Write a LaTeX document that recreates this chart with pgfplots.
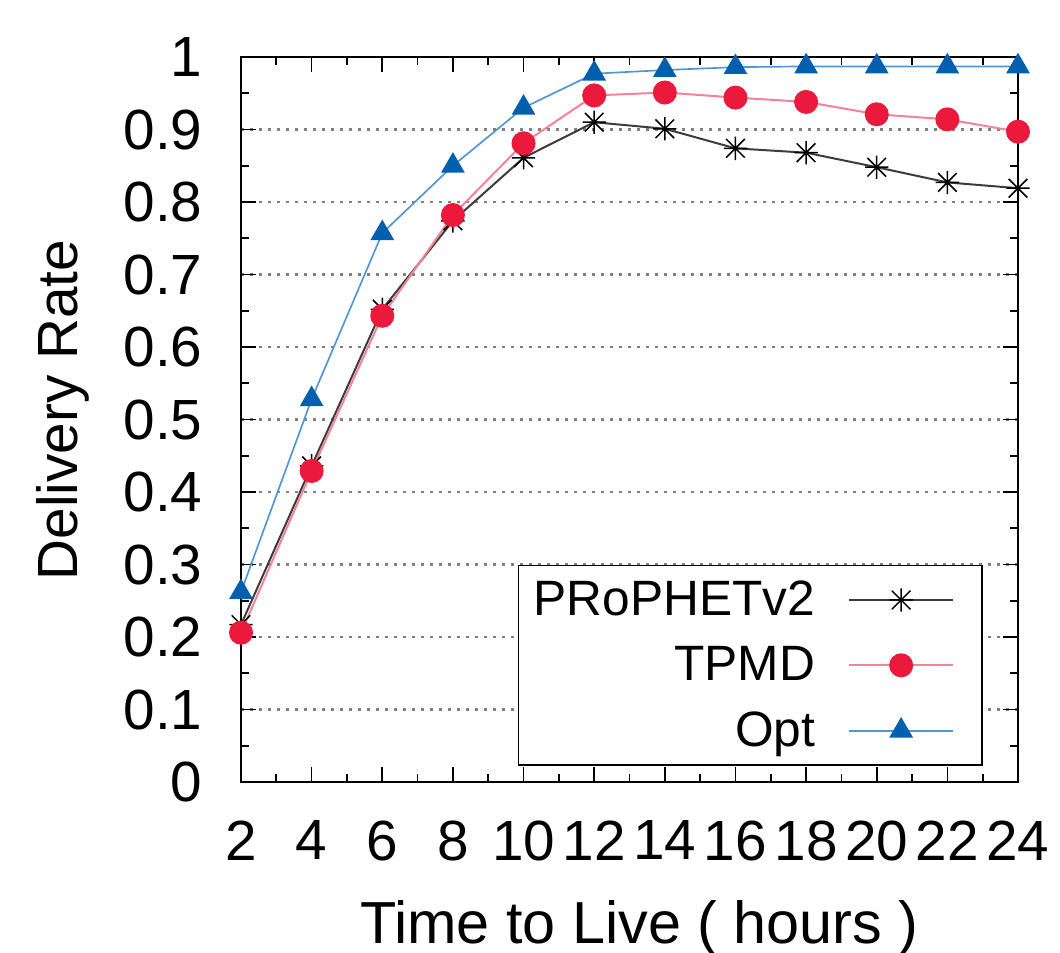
\documentclass[border=0pt]{standalone}
\usepackage{pgfplots}
\pgfplotsset{compat=1.18}
\usepackage{fontspec}
\setmainfont{Liberation Sans}
\definecolor{optblue}{RGB}{0,96,173}
\definecolor{optline}{RGB}{80,150,212}
\definecolor{tpmdred}{RGB}{235,25,60}
\definecolor{tpmdline}{RGB}{245,130,150}
\definecolor{proline}{RGB}{60,60,60}
\pgfdeclareplotmark{gstar}{%
  \pgfpathmoveto{\pgfqpoint{-\pgfplotmarksize}{0pt}}\pgfpathlineto{\pgfqpoint{\pgfplotmarksize}{0pt}}%
  \pgfpathmoveto{\pgfqpoint{0pt}{-\pgfplotmarksize}}\pgfpathlineto{\pgfqpoint{0pt}{\pgfplotmarksize}}%
  \pgfpathmoveto{\pgfqpoint{-0.8\pgfplotmarksize}{-0.8\pgfplotmarksize}}\pgfpathlineto{\pgfqpoint{0.8\pgfplotmarksize}{0.8\pgfplotmarksize}}%
  \pgfpathmoveto{\pgfqpoint{-0.8\pgfplotmarksize}{0.8\pgfplotmarksize}}\pgfpathlineto{\pgfqpoint{0.8\pgfplotmarksize}{-0.8\pgfplotmarksize}}%
  \pgfusepathqstroke}
\begin{document}
\begin{tikzpicture}
\begin{axis}[
  scale only axis,
  width=233.1pt, height=217.5pt,
  xmin=2, xmax=24, ymin=0, ymax=1,
  xtick={2,4,...,24},
  ytick={0,0.1,...,1},
  minor x tick num=1,
  minor y tick num=1,
  tick align=inside,
  major tick length=4.5pt,
  minor tick length=2.4pt,
  tick style={black, line width=0.5pt},
  axis line style={black, line width=0.8pt},
  ymajorgrids,
  major grid style={gray, dash pattern=on 0.9pt off 1.8pt, line width=0.7pt},
  font=\fontsize{17}{20}\selectfont,
  /pgf/number format/assume math mode=true,
  yticklabel style={anchor=east, inner sep=0pt, xshift=-11.4pt},
  xticklabel style={anchor=north, inner sep=0pt, yshift=-11.4pt},
  xlabel={Time to Live ( hours )},
  ylabel={Delivery Rate},
  xlabel style={at={(axis description cs:0.5,0)}, anchor=base, inner sep=0pt, yshift=-48.3pt, xshift=3pt, font=\fontsize{17.8}{20}\selectfont},
  ylabel style={at={(axis description cs:-0.2098,0.513)}, anchor=base, inner sep=0pt},
  legend cell align=right,
  legend plot pos=right,
  legend style={at={(1,0)}, anchor=south east, xshift=-10.5pt, yshift=4.8pt,
    draw=black, line width=0.5pt, fill=white,
    font=\fontsize{14.9}{17}\selectfont,
    inner xsep=4.5pt, inner ysep=4.2pt, row sep=7.3pt, column sep=10pt,
    nodes={inner sep=0pt, text height=10.8pt, text depth=1.5pt}},
  legend image code/.code={\draw[mark repeat=2,mark phase=2] plot coordinates {(0cm,0cm) (0.545cm,0cm) (1.09cm,0cm)};\path (1.09cm+4pt,0pt);},
]
\addplot[color=proline, line width=0.6pt, mark=gstar, mark size=3.5pt, mark options={black, line width=0.45pt}]
 coordinates {(2,0.217) (4,0.436) (6,0.652) (8,0.774) (10,0.861) (12,0.910) (14,0.901) (16,0.874) (18,0.868) (20,0.848) (22,0.827) (24,0.819)};
\addlegendentry{PRoPHETv2}
\addplot[color=tpmdline, line width=0.6pt, mark=*, mark size=3.3pt, mark options={tpmdred, fill=tpmdred}]
 coordinates {(2,0.206) (4,0.429) (6,0.643) (8,0.782) (10,0.881) (12,0.947) (14,0.951) (16,0.944) (18,0.938) (20,0.921) (22,0.914) (24,0.897)};
\addlegendentry{TPMD}
\addplot[color=optline, line width=0.5pt, mark=triangle*, mark size=3.6pt, mark options={optblue, fill=optblue}]
 coordinates {(2,0.262) (4,0.528) (6,0.757) (8,0.850) (10,0.930) (12,0.977) (14,0.982) (16,0.986) (18,0.987) (20,0.987) (22,0.987) (24,0.987)};
\addlegendentry{Opt}
\end{axis}
\pgfresetboundingbox
\path[use as bounding box] ([shift={(-72.3pt,-51.3pt)}]current axis.south west) rectangle ([shift={(245.7pt,234.6pt)}]current axis.south west);
\end{tikzpicture}
\end{document}
